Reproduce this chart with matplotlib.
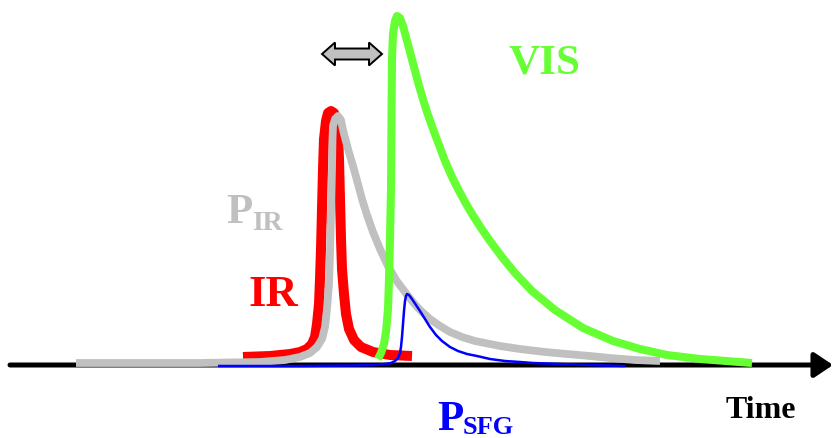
import numpy as np
import matplotlib
matplotlib.use("Agg")
from matplotlib import pyplot as plt
from matplotlib.patches import Polygon

# time axis in px units, signal = height above the time axis (px)
ir_t = [243, 270, 290, 300, 307, 312, 315, 317, 319, 320, 321, 322, 323, 324, 326,
        328, 331, 334, 336, 338, 339, 340, 341, 342, 344, 346, 349, 354, 361, 373,
        390, 412]
ir_s = [8, 9, 11, 13, 16, 21, 28, 41, 61, 86, 116, 156, 196, 226, 244,
        252, 254, 252, 246, 231, 206, 166, 126, 96, 71, 51, 36, 25, 18, 13,
        10, 9]

pir_t = [76, 200, 260, 285, 300, 310, 317, 322, 325, 327, 329, 330, 331, 332, 332.5,
         333, 335, 338, 341, 343, 348, 353, 358, 362, 367, 373, 380, 388, 396, 405,
         412, 420, 430, 440, 450, 462, 475, 490, 500, 520, 545, 567, 590, 610, 635,
         660]
pir_s = [2, 2, 3, 5, 8, 12, 18, 26, 38, 56, 81, 111, 151, 196, 226,
         239, 246, 249, 245, 235, 216, 199, 181, 166, 150, 133, 116, 99, 85, 73,
         64, 55, 46, 39, 33, 28, 24, 21, 19, 16, 13, 11, 9, 7, 5,
         4]

vis_t = [378, 381, 384, 386, 388, 389, 390, 391, 391.5, 392, 393, 395, 397, 400, 403,
         406, 410, 414, 418, 422, 427, 433, 439, 445, 452, 458, 465, 472, 481, 490,
         502, 515, 532, 555, 583, 613, 640, 667, 700, 752]
vis_s = [6, 12, 21, 33, 56, 86, 126, 176, 246, 306, 331, 344, 349, 347, 339,
         328, 313, 298, 283, 269, 253, 236, 220, 204, 188, 176, 163, 151, 137, 124,
         108, 92, 74, 55, 37, 24, 16, 10, 6, 2]

sfg_t = [218, 300, 350, 375, 385, 391, 395, 398, 400, 401, 402, 403, 404, 405, 406,
         407, 409, 412, 416, 420, 425, 430, 436, 442, 450, 458, 467, 477, 490, 505,
         520, 533, 560, 590, 625]
sfg_s = [-1, -1, -0.5, 0, 1, 2, 4, 7, 12, 18, 28, 41, 54, 64, 69,
         71, 70, 66, 60, 54, 46, 38, 30, 24, 18, 14, 11, 9, 6, 4,
         3, 2, 1, 0, -1]

c_ir = "#ff0000"
c_pir = "#c0c0c0"
c_vis = "#66ff33"
c_sfg = "#0000ff"

fig = plt.figure(figsize=(8.33, 4.39), dpi=100)
ax = fig.add_axes([0, 0, 1, 1])
ax.set_xlim(0, 833)
ax.set_ylim(-73, 366)
ax.axis("off")

# time axis
ax.annotate("", xy=(833, 0), xytext=(10, 0),
            arrowprops=dict(arrowstyle="-|>,head_length=0.7,head_width=0.47",
                            mutation_scale=16, lw=3.6, color="black",
                            shrinkA=0, shrinkB=0), zorder=1)

line_kw = dict(solid_capstyle="butt", solid_joinstyle="round")
ax.plot(ir_t, ir_s, color=c_ir, lw=7.2, zorder=2, **line_kw)
ax.plot(pir_t, pir_s, color=c_pir, lw=5.6, zorder=3, **line_kw)
ax.plot(vis_t, vis_s, color=c_vis, lw=5.8, zorder=4, **line_kw)
ax.plot(sfg_t, sfg_s, color=c_sfg, lw=1.8, zorder=5, **line_kw)

# delay double arrow
x0, x1, yc = 322, 382, 311
hl, hw, sw = 13, 11.5, 5.5
pts = [(x0, yc), (x0 + hl, yc + hw), (x0 + hl, yc + sw), (x1 - hl, yc + sw),
       (x1 - hl, yc + hw), (x1, yc), (x1 - hl, yc - hw), (x1 - hl, yc - sw),
       (x0 + hl, yc - sw), (x0 + hl, yc - hw)]
ax.add_patch(Polygon(pts, closed=True, facecolor="#c0c0c0", edgecolor="black",
                     lw=1.4, joinstyle="miter", zorder=6))

font = dict(family="Liberation Serif", weight="bold", ha="left", va="baseline")
ax.text(509, 366 - 73, "VIS", color=c_vis, fontsize=31, **font)
ax.text(249, 366 - 306, "IR", color=c_ir, fontsize=32, **font)
ax.text(226, 366 - 223, "P", color=c_pir, fontsize=31, **font)
ax.text(252, 366 - 230, "IR", color=c_pir, fontsize=20, **font)
ax.text(437, 366 - 430, "P", color=c_sfg, fontsize=31, **font)
ax.text(463, 366 - 434, "SFG", color=c_sfg, fontsize=19, **font)
ax.text(726, 366 - 418, "Time", color="black", fontsize=23, **font)

fig.savefig("out.png", dpi=100)
